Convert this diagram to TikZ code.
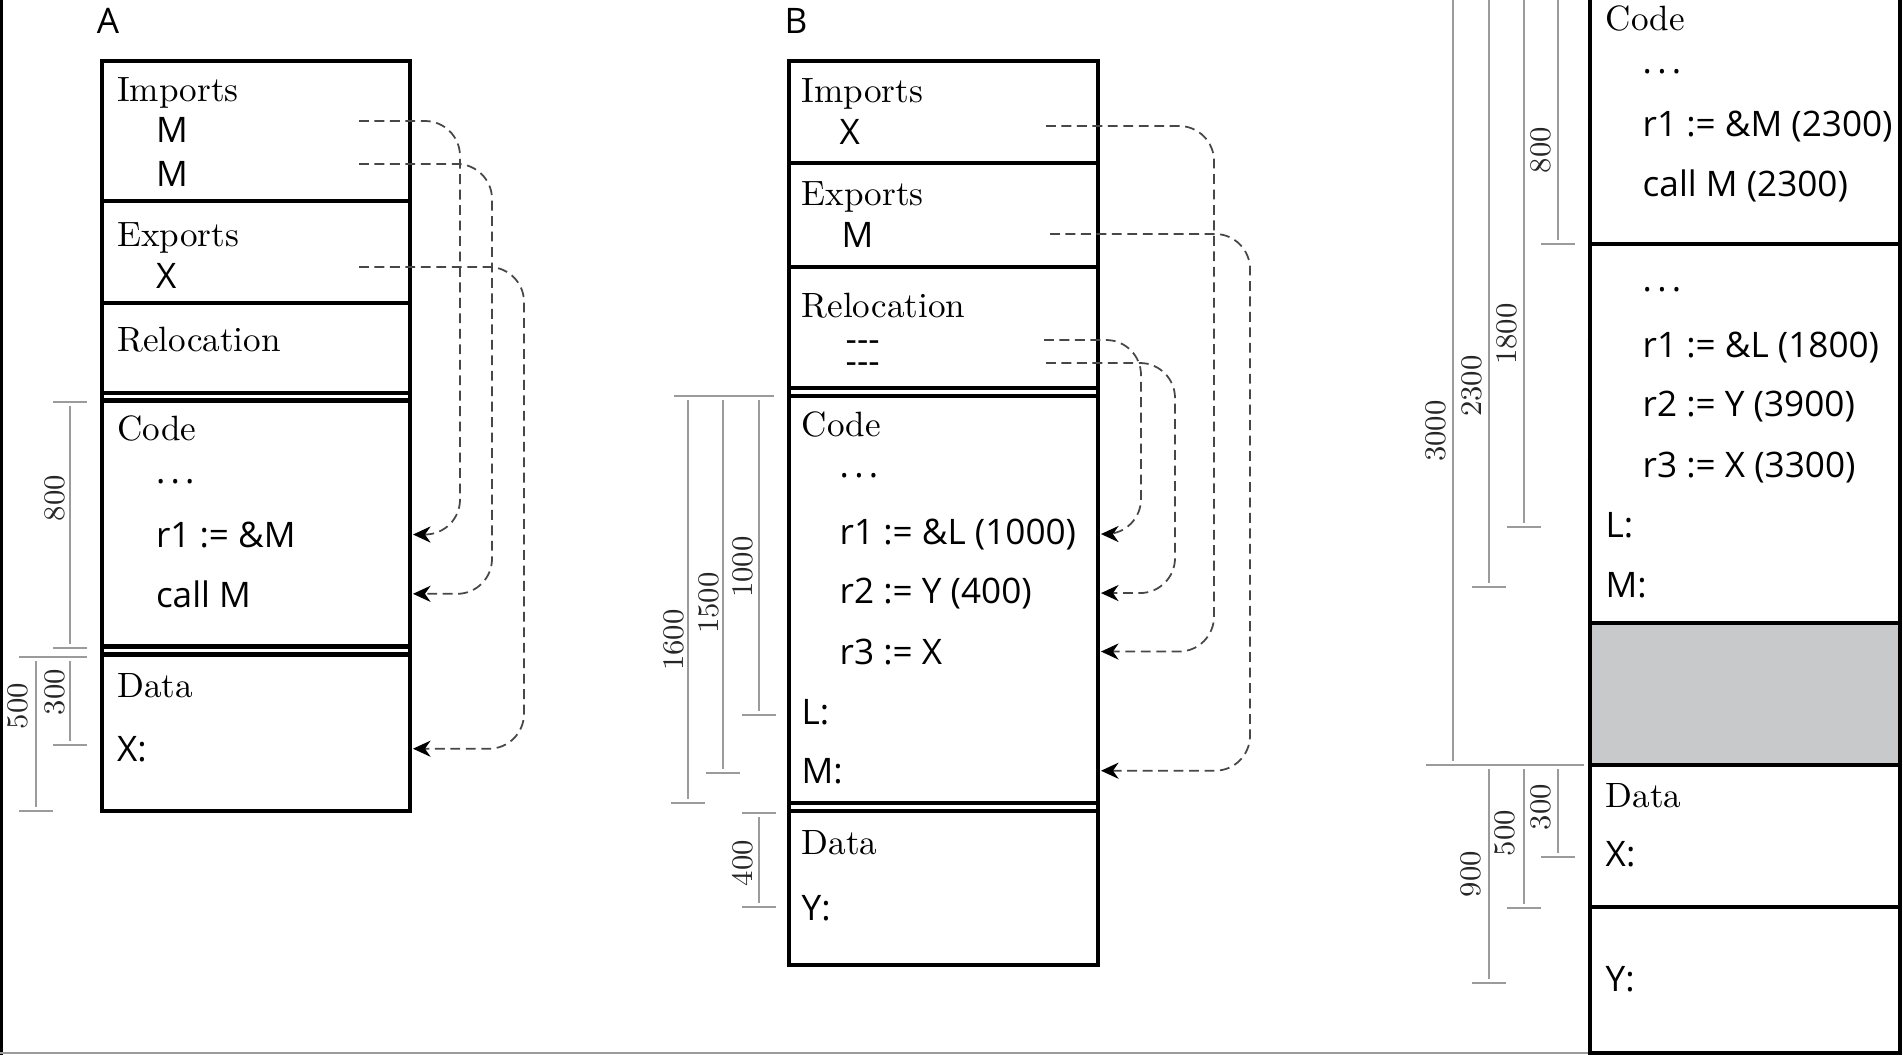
\documentclass[tikz,border=0pt]{standalone}
\usepackage{fontspec}
\setsansfont{Open Sans}
\usetikzlibrary{arrows.meta}
\definecolor{holegray}{RGB}{200,201,203}
\definecolor{rulegray}{RGB}{155,155,155}
\newcommand{\gapdots}{.\kern1.5pt.\kern1.5pt.}

\tikzset{
  wall/.style={line width=1.2pt},
  head/.style={anchor=base west, inner sep=0pt, font=\fontsize{10}{12}\selectfont},
  coderow/.style={anchor=base west, inner sep=0pt, font=\sffamily\fontsize{10}{12}\selectfont},
  tag/.style={inner sep=0pt, font=\sffamily\fontsize{10}{12}\selectfont},
  linkline/.style={black!72, line width=0.5pt, dash pattern=on 2.8pt off 1.6pt,
    rounded corners=3.5mm, -{Stealth[length=5pt,width=4.6pt,inset=1.6pt,color=black]}},
  measure/.style={rulegray, line width=0.5pt},
  dimlab/.style={rotate=90, inner sep=0pt, black!85, font=\fontsize{8.5}{10}\selectfont}
}

\begin{document}
\begin{tikzpicture}
    \useasboundingbox (0,0) rectangle (19.03,10.55);
    % Draw the page edges
    \draw[line width=0.9pt] (0.015,0) -- (0.015,10.55);
    \draw[rulegray, line width=0.6pt] (0,0.02) -- (15.9,0.02);

    % Module A: the box and its sections
    \node[tag] (labA) at (1.08,10.34) {A};
    \draw[wall] (1.02,2.44) rectangle (4.10,9.94);
    \foreach \y in {8.54,7.52,6.62,6.545,4.085,4.005}
        \draw[wall] (1.02,\y) -- (4.10,\y);
    % Texts of module A
    \node[head] (aImp) at (1.165,9.54) {Imports};
    \node[coderow] (aImpM) at (1.553,9.13) {M};
    \node[coderow] (aImpMM) at (1.553,8.69) {M};
    \node[head] (aExp) at (1.165,8.09) {Exports};
    \node[coderow] (aExpX) at (1.553,7.67) {X};
    \node[head] (aRel) at (1.165,7.04) {Relocation};
    \node[head] (aCode) at (1.165,6.15) {Code};
    \node[coderow] (aDots) at (1.553,5.72) {\gapdots};
    \node[coderow] (aRone) at (1.553,5.08) {r1 := \&M};
    \node[coderow] (aCall) at (1.553,4.48) {call M};
    \node[head] (aData) at (1.165,3.58) {Data};
    \node[coderow] (aX) at (1.165,2.94) {X:};
    % Links of module A
    \coordinate (aE) at (4.13,0);
    \coordinate (aS1) at (3.59,9.34); \coordinate (aV1) at (4.60,0);
    \coordinate (aS2) at (3.59,8.91); \coordinate (aV2) at (4.92,0);
    \coordinate (aS3) at (3.59,7.88); \coordinate (aV3) at (5.24,0);
    \draw[linkline] (aS1) -| (aV1 |- aRone) -- (aRone -| aE);
    \draw[linkline] (aS2) -| (aV2 |- aCall) -- (aCall -| aE);
    \draw[linkline] (aS3) -| (aV3 |- aX) -- (aX -| aE);
    % Sizes of module A
    \draw[measure] (0.53,6.53) -- (0.87,6.53) (0.70,6.49) -- (0.70,4.11) (0.53,4.07) -- (0.87,4.07);
    \node[dimlab] (a800) at (0.55,5.57) {800};
    \draw[measure] (0.19,3.98) -- (0.87,3.98);
    \draw[measure] (0.36,3.94) -- (0.36,2.48) (0.19,2.44) -- (0.53,2.44);
    \node[dimlab] (a500) at (0.18,3.49) {500};
    \draw[measure] (0.70,3.94) -- (0.70,3.14) (0.53,3.10) -- (0.87,3.10);
    \node[dimlab] (a300) at (0.55,3.63) {300};

    % Module B: the box and its sections
    \node[tag] (labB) at (7.96,10.34) {B};
    \draw[wall] (7.89,0.90) rectangle (10.98,9.94);
    \foreach \y in {8.92,7.88,6.67,6.59,2.52,2.44}
        \draw[wall] (7.89,\y) -- (10.98,\y);
    % Texts of module B
    \node[head] (bImp) at (8.01,9.53) {Imports};
    \node[coderow] (bImpX) at (8.39,9.11) {X};
    \node[head] (bExp) at (8.01,8.50) {Exports};
    \node[coderow] (bExpM) at (8.41,8.08) {M};
    \node[head] (bRel) at (8.01,7.38) {Relocation};
    \node[coderow, align=left, font=\sffamily\fontsize{10}{6.2}\selectfont]
        (bRelA) at (8.45,6.82) {-{}-{}-\\-{}-{}-};
    \node[head] (bCode) at (8.01,6.19) {Code};
    \node[coderow] (bDots) at (8.39,5.78) {\gapdots};
    \node[coderow] (bRone) at (8.39,5.11) {r1 := \&L (1000)};
    \node[coderow] (bRtwo) at (8.39,4.52) {r2 := Y (400)};
    \node[coderow] (bRthree) at (8.39,3.91) {r3 := X};
    \node[coderow] (bL) at (8.01,3.31) {L:};
    \node[coderow] (bM) at (8.01,2.72) {M:};
    \node[head] (bData) at (8.01,2.01) {Data};
    \node[coderow] (bY) at (8.01,1.35) {Y:};
    % Links of module B
    \coordinate (bE) at (11.01,0);
    \coordinate (bS1) at (10.46,9.29); \coordinate (bV1) at (12.14,0);
    \coordinate (bS2) at (10.50,8.21); \coordinate (bV2) at (12.50,0);
    \coordinate (bS3) at (10.44,7.15); \coordinate (bV3) at (11.41,0);
    \coordinate (bS4) at (10.46,6.92); \coordinate (bV4) at (11.75,0);
    \draw[linkline] (bS1) -| (bV1 |- bRthree) -- (bRthree -| bE);
    \draw[linkline] (bS2) -| (bV2 |- bM) -- (bM -| bE);
    \draw[linkline] (bS3) -| (bV3 |- bRone) -- (bRone -| bE);
    \draw[linkline] (bS4) -| (bV4 |- bRtwo) -- (bRtwo -| bE);
    % Sizes of module B
    \draw[measure] (6.74,6.59) -- (7.74,6.59);
    \draw[measure] (6.88,6.55) -- (6.88,2.56) (6.71,2.52) -- (7.05,2.52);
    \node[dimlab] (b1600) at (6.74,4.15) {1600};
    \draw[measure] (7.23,6.55) -- (7.23,2.86) (7.06,2.82) -- (7.40,2.82);
    \node[dimlab] (b1500) at (7.09,4.52) {1500};
    \draw[measure] (7.59,6.55) -- (7.59,3.44) (7.42,3.40) -- (7.76,3.40);
    \node[dimlab] (b1000) at (7.43,4.88) {1000};
    \draw[measure] (7.42,2.42) -- (7.76,2.42) (7.59,2.38) -- (7.59,1.52) (7.42,1.48) -- (7.76,1.48);
    \node[dimlab] (b400) at (7.43,1.92) {400};

    % Linked program: the box and its sections
    \fill[holegray] (15.90,4.32) rectangle (19.00,2.90);
    \draw[wall] (15.90,10.7) -- (15.90,0.02) -- (19.00,0.02) -- (19.00,10.7);
    \foreach \y in {8.11,4.32,2.90,1.48}
        \draw[wall] (15.90,\y) -- (19.00,\y);
    % Texts of the linked program
    \node[head] (cCode) at (16.05,10.25) {Code};
    \node[coderow] (cDotsA) at (16.42,9.82) {\gapdots};
    \node[coderow] (cRone) at (16.42,9.19) {r1 := \&M (2300)};
    \node[coderow] (cCall) at (16.42,8.59) {call M (2300)};
    \node[coderow] (cDotsB) at (16.42,7.64) {\gapdots};
    \node[coderow] (cRoneB) at (16.42,6.98) {r1 := \&L (1800)};
    \node[coderow] (cRtwo) at (16.42,6.39) {r2 := Y (3900)};
    \node[coderow] (cRthree) at (16.42,5.78) {r3 := X (3300)};
    \node[coderow] (cL) at (16.05,5.18) {L:};
    \node[coderow] (cM) at (16.05,4.58) {M:};
    \node[head] (cData) at (16.05,2.48) {Data};
    \node[coderow] (cX) at (16.05,1.89) {X:};
    \node[coderow] (cY) at (16.05,0.64) {Y:};
    % Sizes of the linked program
    \draw[measure] (14.53,10.55) -- (14.53,2.94) (14.26,2.90) -- (15.84,2.90);
    \node[dimlab] (c3000) at (14.36,6.24) {3000};
    \draw[measure] (14.89,10.55) -- (14.89,4.72) (14.72,4.68) -- (15.06,4.68);
    \node[dimlab] (c2300) at (14.72,6.69) {2300};
    \draw[measure] (15.24,10.55) -- (15.24,5.32) (15.07,5.28) -- (15.41,5.28);
    \node[dimlab] (c1800) at (15.07,7.21) {1800};
    \draw[measure] (15.58,10.55) -- (15.58,8.15) (15.41,8.11) -- (15.75,8.11);
    \node[dimlab] (c800) at (15.41,9.05) {800};
    \draw[measure] (14.89,2.86) -- (14.89,0.76) (14.72,0.72) -- (15.06,0.72);
    \node[dimlab] (c900) at (14.71,1.81) {900};
    \draw[measure] (15.24,2.86) -- (15.24,1.51) (15.07,1.47) -- (15.41,1.47);
    \node[dimlab] (c500) at (15.05,2.22) {500};
    \draw[measure] (15.58,2.86) -- (15.58,2.02) (15.41,1.98) -- (15.75,1.98);
    \node[dimlab] (c300) at (15.41,2.48) {300};
\end{tikzpicture}
\end{document}
